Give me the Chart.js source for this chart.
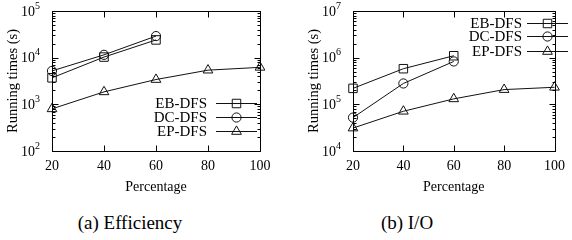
<!DOCTYPE html>
<html>
<head>
<meta charset="utf-8">
<script src="https://cdn.jsdelivr.net/npm/chart.js@4.4.1/dist/chart.umd.min.js"></script>
<style>
body { margin: 0; background: #fff; }
#wrap { position: relative; width: 572px; height: 240px; font-family: "Liberation Serif", serif; }
canvas { position: absolute; top: 0; }
.cap { position: absolute; top: 212px; font-size: 19px; line-height: 22px; text-align: center; color: #000; }
</style>
</head>
<body>
<div id="wrap">
  <canvas id="chart1" width="286" height="200" style="left:0"></canvas>
  <canvas id="chart2" width="286" height="200" style="left:286px"></canvas>
  <div class="cap" style="left:0;width:260px">(a) Efficiency</div>
  <div class="cap" style="left:286px;width:242px">(b) I/O</div>
</div>
<script>
const percentages = [20, 40, 60, 80, 100];
const seriesNames = ['EB-DFS', 'DC-DFS', 'EP-DFS'];

// (a) running times
const effEB = [3700, 10300, 24000];
const effDC = [5200, 11500, 29000];
const effEP = [800, 1850, 3400, 5400, 6200];

// (b) I/O
const ioEB = [220000, 580000, 1100000];
const ioDC = [52000, 280000, 830000];
const ioEP = [31000, 71000, 131000, 207000, 232000];

const FONT = '"Liberation Serif", serif';
const styles = [
  { pointStyle: 'rect', radius: 6 },
  { pointStyle: 'circle', radius: 4.6 },
  { pointStyle: 'triangle', radius: 5.6 }
];

let toPoints = function(vals) {
  return vals.map((v, i) => ({ x: percentages[i], y: v }));
};

let makeDatasets = function(list) {
  return list.map((vals, i) => ({
    label: seriesNames[i],
    data: toPoints(vals),
    borderColor: '#111',
    borderWidth: 1,
    backgroundColor: 'rgba(0,0,0,0)',
    pointStyle: styles[i].pointStyle,
    pointRadius: styles[i].radius,
    pointBorderWidth: 1,
    pointBorderColor: '#111',
    pointBackgroundColor: 'rgba(0,0,0,0)',
    tension: 0,
    clip: false
  }));
};

// gnuplot-like frame, inward ticks, 10^n labels and key
const framePlugin = {
  id: 'frame',
  afterDraw(chart, args, opts) {
    const ctx = chart.ctx;
    const a = chart.chartArea;
    const xs = chart.scales.x, ys = chart.scales.y;
    const L = Math.round(a.left) + 0.5, R = Math.round(a.right) + 0.5;
    const T = Math.round(a.top) + 0.5, B = Math.round(a.bottom) + 0.5;
    ctx.save();
    ctx.strokeStyle = '#000';
    ctx.lineWidth = 1;
    ctx.strokeRect(L, T, R - L, B - T);

    ctx.beginPath();
    percentages.forEach(p => {
      const px = Math.round(xs.getPixelForValue(p)) + 0.5;
      ctx.moveTo(px, B); ctx.lineTo(px, B - 6);
      ctx.moveTo(px, T); ctx.lineTo(px, T + 6);
    });
    for (let e = opts.minExp; e <= opts.maxExp; e++) {
      const base = Math.pow(10, e);
      const py = Math.round(ys.getPixelForValue(base)) + 0.5;
      ctx.moveTo(L, py); ctx.lineTo(L + 6, py);
      ctx.moveTo(R, py); ctx.lineTo(R - 6, py);
      if (e < opts.maxExp) {
        for (let m = 2; m <= 9; m++) {
          const my = Math.round(ys.getPixelForValue(base * m)) + 0.5;
          ctx.moveTo(L, my); ctx.lineTo(L + 3, my);
          ctx.moveTo(R, my); ctx.lineTo(R - 3, my);
        }
      }
    }
    ctx.stroke();

    // y labels as 10 with superscript exponent
    ctx.fillStyle = '#000';
    ctx.textBaseline = 'middle';
    for (let e = opts.minExp; e <= opts.maxExp; e++) {
      const py = ys.getPixelForValue(Math.pow(10, e));
      const right = a.left - 12;
      ctx.font = '10px ' + FONT;
      const ew = ctx.measureText(String(e)).width;
      ctx.textAlign = 'left';
      ctx.fillText(String(e), right - ew, py - 5);
      ctx.font = '14px ' + FONT;
      ctx.textAlign = 'right';
      ctx.fillText('10', right - ew, py + 1);
    }

    // key
    const k = opts.key;
    ctx.font = '15px ' + FONT;
    ctx.textAlign = 'right';
    chart.data.datasets.forEach((ds, i) => {
      const y = k.rows[i];
      ctx.fillStyle = '#000';
      ctx.fillText(ds.label, k.textRight, y + 1);
      ctx.beginPath();
      ctx.moveTo(k.lineFrom, Math.round(y) + 0.5);
      ctx.lineTo(k.lineTo, Math.round(y) + 0.5);
      ctx.strokeStyle = '#111';
      ctx.stroke();
      ctx.fillStyle = 'rgba(0,0,0,0)';
      Chart.helpers.drawPoint(ctx, {
        pointStyle: ds.pointStyle, radius: ds.pointRadius, rotation: 0, borderWidth: 1
      }, (k.lineFrom + k.lineTo) / 2, Math.round(y) + 0.5);
    });
    ctx.restore();
  }
};

let makeChart = function(id, list, yMin, yMax, yWidth, padRight, titlePad, key) {
  const config = {
    type: 'line',
    data: { datasets: makeDatasets(list) },
    options: {
      responsive: false,
      animation: false,
      devicePixelRatio: 1,
      layout: { padding: { top: 11, right: padRight, left: 0, bottom: 0 } },
      plugins: {
        legend: { display: false },
        tooltip: { enabled: false },
        frame: { minExp: Math.log10(yMin), maxExp: Math.log10(yMax), key: key }
      },
      scales: {
        x: {
          type: 'linear',
          min: 20,
          max: 100,
          grid: { display: false, drawTicks: false },
          border: { display: false },
          ticks: { stepSize: 20, padding: 7, color: '#000', font: { family: FONT, size: 14 } },
          title: { display: true, text: 'Percentage', color: '#000', font: { family: FONT, size: 14 }, padding: { top: 4, bottom: 4 } },
          afterFit: s => { s.height = 49; }
        },
        y: {
          type: 'logarithmic',
          min: yMin,
          max: yMax,
          grid: { display: false, drawTicks: false },
          border: { display: false },
          ticks: { display: false },
          title: { display: true, text: 'Running times (s)', color: '#000', font: { family: FONT, size: 14.5 }, padding: { top: titlePad, bottom: 0 } },
          afterFit: s => { s.width = yWidth; }
        }
      }
    },
    plugins: [framePlugin]
  };
  return new Chart(document.getElementById(id), config);
};

makeChart('chart1', [effEB, effDC, effEP], 100, 100000, 52, 26, 4,
  { textRight: 207, lineFrom: 216, lineTo: 257, rows: [102.7, 116.9, 131.3] });
makeChart('chart2', [ioEB, ioDC, ioEP], 10000, 10000000, 67, 10, 19,
  { textRight: 236, lineFrom: 241, lineTo: 282, rows: [22.7, 36.3, 50.6] });
</script>
</body>
</html>
